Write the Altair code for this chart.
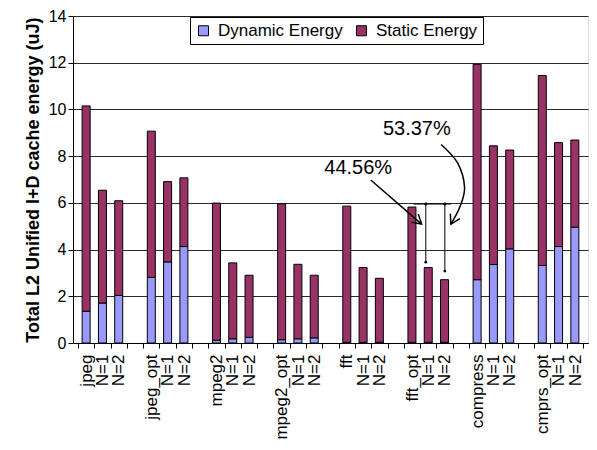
import json
import altair as alt
import pandas as pd

groups = ["jpeg", "jpeg_opt", "mpeg2", "mpeg2_opt", "fft", "fft_opt", "compress", "cmprs_opt"]

dynamic = [1.36, 1.71, 2.04,
           2.81, 3.47, 4.13,
           0.12, 0.18, 0.24,
           0.14, 0.18, 0.22,
           0.03, 0.03, 0.03,
           0.03, 0.03, 0.03,
           2.71, 3.36, 4.03,
           3.32, 4.13, 4.96]
static = [8.79, 4.83, 4.05,
          6.26, 3.44, 2.94,
          5.87, 3.25, 2.66,
          5.82, 3.19, 2.68,
          5.83, 3.20, 2.74,
          5.79, 3.20, 2.68,
          9.22, 5.08, 4.23,
          8.13, 4.45, 3.73]

series_names = ["Dynamic Energy", "Static Energy"]
series_colors = ["#9999FF", "#993366"]

# tick labels for each slot (3 bars + gap per group)
slot_labels = []
for gi, g in enumerate(groups):
    slot_labels += [g, "N=1", "N=2"]
    if gi < len(groups) - 1:
        slot_labels.append("")

rows = []
for i in range(len(dynamic)):
    g, m = divmod(i, 3)
    slot = 4 * g + m
    rows.append({"x": slot, "series": series_names[0], "y": dynamic[i], "ord": 0})
    rows.append({"x": slot, "series": series_names[1], "y": static[i], "ord": 1})
df = pd.DataFrame(rows)

FONT = "Liberation Sans"
W, H = 515, 327
xscale = alt.Scale(domain=[-0.5, 30.5], nice=False, zero=False)
yscale = alt.Scale(domain=[0, 14], nice=False)

label_expr = "(" + json.dumps(slot_labels) + ")[round(datum.value + 0.5)] || ''"

xaxis = alt.Axis(title=None, values=[i - 0.5 for i in range(32)],
                 labelExpr=label_expr, labelAngle=270, labelAlign="right",
                 labelBaseline="middle", labelOffset=W / 31 / 2, labelFlush=False,
                 labelOverlap=False, labelBound=False, labelFontSize=17,
                 labelFont=FONT, labelColor="black", labelPadding=6,
                 tickSize=5, tickColor="black", domainColor="black", grid=False)
yaxis = alt.Axis(title="Total L2 Unified I+D cache energy (uJ)", values=list(range(0, 15, 2)),
                 titleFont=FONT, titleFontSize=18, titleFontWeight="bold", titleColor="black",
                 titlePadding=6, labelFont=FONT, labelFontSize=16, labelColor="black",
                 tickSize=5, tickColor="black", domainColor="black",
                 grid=True, gridColor="#2a2a2a", gridWidth=1)

X = alt.X("x:Q", scale=xscale, axis=xaxis)
Y = alt.Y("y:Q", scale=yscale, axis=yaxis)

bars = alt.Chart(df).mark_bar(size=8, stroke="black", strokeWidth=1).encode(
    x=X,
    y=alt.Y("y:Q", stack="zero", scale=yscale, axis=yaxis),
    color=alt.Color("series:N", scale=alt.Scale(domain=series_names, range=series_colors),
                    legend=alt.Legend(title=None, orient="none", legendX=117, legendY=1,
                                      direction="horizontal", fillColor="white", strokeColor="black",
                                      padding=5, symbolType="square", symbolSize=100,
                                      symbolStrokeColor="black", symbolStrokeWidth=1,
                                      labelFont=FONT, labelFontSize=17, labelColor="black",
                                      columnPadding=10, labelOffset=6)),
    order=alt.Order("ord:Q"),
)

# annotations
notes = pd.DataFrame({"x": [16.7, 20.3], "y": [7.49, 9.17], "text": ["44.56%", "53.37%"]})
texts = alt.Chart(notes).mark_text(font=FONT, fontSize=20, color="black").encode(x=X, y=Y, text="text:N")

straight = pd.DataFrame({"x": [17.47], "y": [6.98], "x2": [20.59], "y2": [5.09]})
arrow1 = alt.Chart(straight).mark_rule(color="black", strokeWidth=1.5).encode(x=X, y=Y, x2="x2:Q", y2="y2:Q")

curve = pd.DataFrame({"i": [0, 1, 2, 3, 4],
                      "x": [21.79, 22.81, 23.23, 22.93, 22.39],
                      "y": [8.50, 7.70, 6.65, 5.81, 5.09]})
arrow2 = alt.Chart(curve).mark_line(color="black", strokeWidth=1.5, interpolate="cardinal").encode(
    x=X, y=Y, order="i:Q")

heads = pd.DataFrame({"x": [20.59, 22.39], "y": [5.09, 5.09], "angle": [40.9, 117.9]})
arrowheads = alt.Chart(heads).mark_point(shape="M-1,-0.6L0,0L-1,0.6", size=324, filled=False,
                                         stroke="black", strokeWidth=1.5, opacity=1).encode(
    x=X, y=Y, angle=alt.Angle("angle:Q", scale=None))

dims = pd.DataFrame({"x": [20.1, 20.85, 22.02], "x2": [22.4, 20.85, 22.02],
                     "y": [5.95, 5.95, 5.95], "y2": [5.95, 3.46, 3.08]})
dimlines = alt.Chart(dims).mark_rule(color="black", strokeWidth=1).encode(x=X, y=Y, x2="x2:Q", y2="y2:Q")

ends = pd.DataFrame({"x": [20.85, 22.02, 20.85, 22.02], "y": [5.95, 5.95, 3.46, 3.08]})
dimends = alt.Chart(ends).mark_point(shape="circle", size=8, filled=True, color="black", opacity=1).encode(x=X, y=Y)

chart = alt.layer(bars, texts, arrow1, arrow2, arrowheads, dimlines, dimends).properties(
    width=W, height=H,
    autosize=alt.AutoSizeParams(type="none"),
    padding={"left": 65, "top": 8, "right": 1, "bottom": 99},
).configure_view(fill="#C0C0C0", strokeWidth=0).configure(background="white")

chart.save("out.html", embed_options={"renderer": "svg", "actions": False})
